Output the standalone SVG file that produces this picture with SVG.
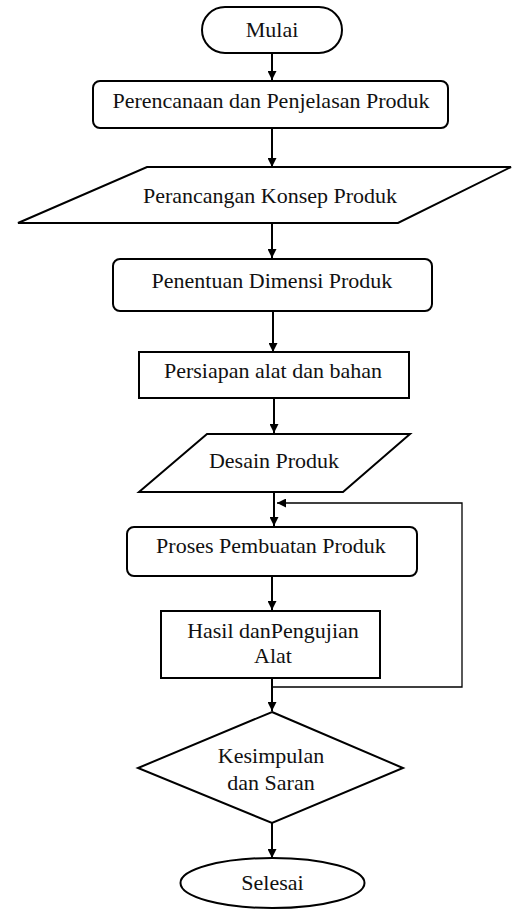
<svg xmlns="http://www.w3.org/2000/svg" width="515" height="909" viewBox="0 0 515 909">
<style>
.s{fill:#fff;stroke:#000;stroke-width:2}
.t{font-family:"Liberation Serif","Times New Roman",serif;font-size:22px;fill:#111;text-anchor:middle}
.c{fill:none;stroke:#000;stroke-width:2}
.f{fill:none;stroke:#000;stroke-width:1.3}
</style>
<defs>
<marker id="ah" viewBox="0 0 10 10" refX="10" refY="5" markerWidth="9" markerHeight="9" markerUnits="userSpaceOnUse" orient="auto">
<path d="M0,0 L10,5 L0,10 z" fill="#000"/>
</marker>
</defs>
<rect width="515" height="909" fill="#fff"/>
<g id="connectors">
<line class="c" x1="272" y1="53" x2="272" y2="80" marker-end="url(#ah)"/>
<line class="c" x1="272" y1="128" x2="272" y2="167" marker-end="url(#ah)"/>
<line class="c" x1="272" y1="223" x2="272" y2="258" marker-end="url(#ah)"/>
<line class="c" x1="273" y1="311" x2="273" y2="352" marker-end="url(#ah)"/>
<line class="c" x1="274" y1="398" x2="274" y2="433" marker-end="url(#ah)"/>
<line class="c" x1="274" y1="492" x2="274" y2="526" marker-end="url(#ah)"/>
<line class="c" x1="272" y1="576" x2="272" y2="610" marker-end="url(#ah)"/>
<line class="c" x1="272" y1="678" x2="272" y2="711" marker-end="url(#ah)"/>
<line class="c" x1="272" y1="823" x2="272" y2="858" marker-end="url(#ah)"/>
<polyline class="f" points="272,687 462,687 462,503 277,503" marker-end="url(#ah)"/>
</g>
<g id="mulai">
<rect class="s" x="202" y="7" width="140" height="46" rx="23" ry="23"/>
<text class="t" x="272" y="37">Mulai</text>
</g>
<g id="perencanaan">
<rect class="s" x="93" y="81" width="355" height="47" rx="7" ry="7"/>
<text class="t" x="271" y="108">Perencanaan dan Penjelasan Produk</text>
</g>
<g id="perancangan">
<polygon class="s" points="147,167 511,167 398,223 18,223"/>
<text class="t" x="270" y="203">Perancangan Konsep Produk</text>
</g>
<g id="penentuan">
<rect class="s" x="113" y="259" width="319" height="52" rx="7" ry="7"/>
<text class="t" x="272" y="288">Penentuan Dimensi Produk</text>
</g>
<g id="persiapan">
<rect class="s" x="139" y="352" width="270" height="46"/>
<text class="t" x="273" y="378">Persiapan alat dan bahan</text>
</g>
<g id="desain">
<polygon class="s" points="207,434 410,434 343,492 139,492"/>
<text class="t" x="274" y="468">Desain Produk</text>
</g>
<g id="proses">
<rect class="s" x="127" y="527" width="290" height="49" rx="7" ry="7"/>
<text class="t" x="271" y="553">Proses Pembuatan Produk</text>
</g>
<g id="hasil">
<rect class="s" x="161" y="611" width="219" height="67"/>
<text class="t" x="273" y="638">Hasil danPengujian</text>
<text class="t" x="273" y="663">Alat</text>
</g>
<g id="kesimpulan">
<polygon class="s" points="272,712 403,768 272,823 138,768"/>
<text class="t" x="271" y="763">Kesimpulan</text>
<text class="t" x="271" y="790">dan Saran</text>
</g>
<g id="selesai">
<ellipse class="s" cx="272.5" cy="883" rx="92" ry="25"/>
<text class="t" x="272.5" y="890">Selesai</text>
</g>
</svg>
